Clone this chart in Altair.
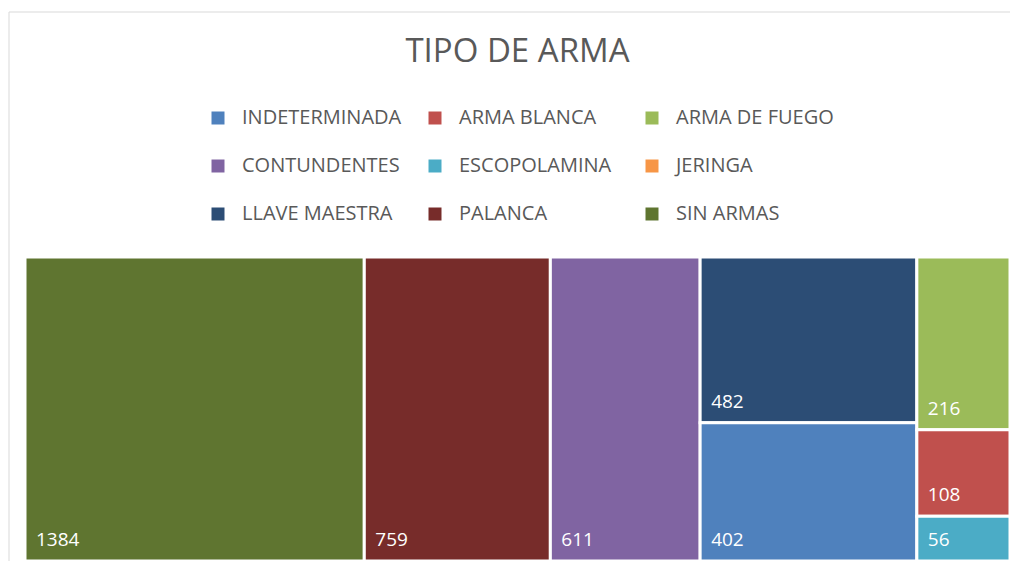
import altair as alt
import pandas as pd

# ---- data ----
categories = ["INDETERMINADA", "ARMA BLANCA", "ARMA DE FUEGO", "CONTUNDENTES",
              "ESCOPOLAMINA", "JERINGA", "LLAVE MAESTRA", "PALANCA", "SIN ARMAS"]
values = [402, 108, 216, 611, 56, 0, 482, 759, 1384]
colors = ["#4F81BD", "#C0504D", "#9BBB59", "#8064A2", "#4BACC6",
          "#F79646", "#2C4D75", "#772C2A", "#5F7530"]
# column grouping of the treemap (left to right, top to bottom)
columns = [["SIN ARMAS"], ["PALANCA"], ["CONTUNDENTES"],
           ["LLAVE MAESTRA", "INDETERMINADA"],
           ["ARMA DE FUEGO", "ARMA BLANCA", "ESCOPOLAMINA", "JERINGA"]]

# ---- treemap layout (data units) ----
val = dict(zip(categories, values))
total = sum(values)
rows = []
xpos = 0
for col in columns:
    s = sum(val[c] for c in col)
    ypos = 0.0
    for c in col:
        v = val[c]
        if v <= 0:
            continue
        h = v / s
        rows.append(dict(cat=c, value=v, x0=xpos, x1=xpos + s, y0=ypos, y1=ypos + h))
        ypos += h
    xpos += s
df = pd.DataFrame(rows)

FONT = "Open Sans"
xs = alt.Scale(domain=[0, total], nice=False, zero=False)
ys = alt.Scale(domain=[0, 1], nice=False, zero=False, reverse=True)

rects = alt.Chart(df).mark_rect(stroke="white", strokeWidth=3).encode(
    x=alt.X("x0:Q", scale=xs, axis=None),
    x2="x1:Q",
    y=alt.Y("y0:Q", scale=ys, axis=None),
    y2="y1:Q",
    color=alt.Color(
        "cat:N",
        scale=alt.Scale(domain=categories, range=colors),
        legend=alt.Legend(
            title=None, orient="none", legendX=183, legendY=-149,
            direction="horizontal",
            columns=3, gridAlign="all", columnPadding=23, rowPadding=28,
            symbolType="square", symbolSize=169, symbolStrokeWidth=0,
            symbolOpacity=1, labelFont=FONT, labelFontSize=20,
            labelColor="#595959", labelOffset=14, padding=0, labelLimit=300,
        ),
    ),
)

labels = alt.Chart(df).mark_text(
    align="left", baseline="alphabetic", dx=11, dy=-15,
    font=FONT, fontSize=19, color="white",
).encode(
    x=alt.X("x0:Q", scale=xs, axis=None),
    y=alt.Y("y1:Q", scale=ys, axis=None),
    text="value:Q",
)

frame = alt.Chart(pd.DataFrame({"k": [0]})).mark_rect(
    fill=None, stroke="#d9d9d9", strokeWidth=1
).encode(
    x=alt.value(-16), x2=alt.value(1000), y=alt.value(-245), y2=alt.value(330)
)

chart = alt.layer(frame, rects, labels).properties(
    width=985, height=304,
    autosize=alt.AutoSizeParams(type="none"),
    padding={"left": 17, "top": 249, "right": 0, "bottom": 0},
    title=alt.Title(
        "TIPO DE ARMA", font=FONT, fontSize=33, fontWeight="normal",
        color="#595959", anchor="middle", baseline="alphabetic",
        offset=0, dy=83,
    ),
).configure_view(stroke=None)

chart.save("out.html", embed_options={"renderer": "svg", "actions": False})
